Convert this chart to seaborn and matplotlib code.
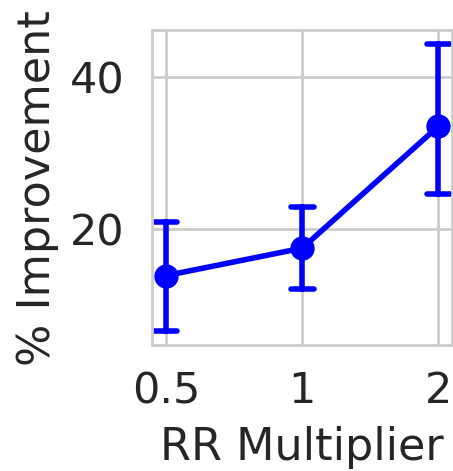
import matplotlib
matplotlib.use("Agg")
import matplotlib.pyplot as plt
import seaborn as sns
import pandas as pd

categories = ["0.5", "1", "2"]
mean_values = [13.9, 17.5, 33.5]
lower_values = [6.6, 12.1, 24.6]
upper_values = [20.9, 22.9, 44.3]

sns.set_theme(style="whitegrid")
plt.rcParams['font.family'] = ['DejaVu Sans']

rows = []
for c, lo, m, hi in zip(categories, lower_values, mean_values, upper_values):
    for v in (lo, m, hi):
        rows.append({"RR Multiplier": c, "% Improvement": v})
df = pd.DataFrame(rows)

fig = plt.figure(figsize=(4.53, 4.71), dpi=100)
ax = fig.add_axes([0.336, 0.2675, 0.662, 0.6685])

sns.pointplot(data=df, x="RR Multiplier", y="% Improvement", order=categories,
              estimator="median", errorbar=lambda v: (v.min(), v.max()),
              color="blue", capsize=0.17, err_kws={"linewidth": 4},
              linewidth=4, markersize=14.5, ax=ax)

ax.set_xlim(-0.1, 2.1)
ax.set_ylim(4.8, 46.1)
ax.set_yticks([20, 40])
ax.tick_params(axis="y", labelsize=31, colors="#262626", pad=14)
ax.tick_params(axis="x", labelsize=31, colors="#262626", pad=12)
ax.set_xlabel("RR Multiplier", fontsize=32, color="#262626", labelpad=10)
ax.set_ylabel("% Improvement", fontsize=32, color="#262626", labelpad=8)
for s in ax.spines.values():
    s.set_color("#cccccc")
    s.set_linewidth(2)
ax.grid(True, color="#cccccc", linewidth=2)

fig.savefig("out.png", dpi=100)
